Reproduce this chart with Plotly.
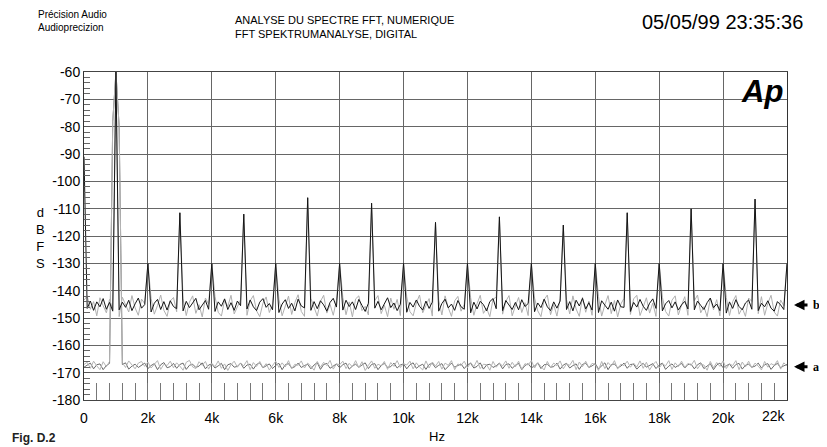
import plotly.graph_objects as go

# ---------------- data ----------------
FREQ_HZ = list(range(0, 22001, 100))  # FFT bins shown, 100 Hz apart

X_TICKS = [0, 2000, 4000, 6000, 8000, 10000, 12000, 14000, 16000, 18000, 20000]
X_TICK_TEXT = ["0", "2k", "4k", "6k", "8k", "10k", "12k", "14k", "16k", "18k", "20k"]
Y_TICKS = [-60, -70, -80, -90, -100, -110, -120, -130, -140, -150, -160, -170, -180]

# trace "b" (with signal), black
B_BLACK = [
    -91.0, -146.5, -143.8, -147.2, -144.1, -145.9, -142.9, -146.8, -144.3, -147.5,
    -60.0, -147.0, -144.2, -146.1, -143.5, -147.3, -144.8, -142.7, -146.4, -145.1,
    -130.0, -147.8, -144.6, -143.2, -146.9, -144.0, -147.1, -143.7, -145.8, -146.6,
    -111.5, -147.4, -143.9, -146.2, -144.5, -142.8, -147.0, -145.3, -143.6, -146.8,
    -130.0, -147.6, -144.1, -145.7, -143.0, -146.9, -144.4, -147.2, -143.8, -145.5,
    -112.0, -146.7, -143.4, -145.9, -147.3, -144.2, -142.9, -146.1, -144.7, -147.0,
    -130.0, -148.0, -144.9, -143.3, -146.5, -144.6, -147.4, -143.1, -145.6, -146.3,
    -106.0, -147.2, -144.0, -146.6, -143.7, -145.2, -147.5, -144.3, -142.8, -146.0,
    -130.0, -147.1, -143.5, -145.8, -144.1, -146.9, -143.2, -145.4, -147.6, -144.6,
    -108.0, -146.4, -143.9, -147.0, -144.8, -142.6, -146.2, -144.5, -147.3, -145.0,
    -130.0, -147.9, -144.3, -146.0, -143.4, -145.7, -147.1, -143.8, -146.5, -144.2,
    -115.0, -147.5, -144.7, -143.1, -146.3, -144.9, -147.2, -143.6, -145.9, -146.8,
    -130.0, -148.1, -144.2, -146.7, -143.9, -145.1, -147.4, -144.0, -142.9, -146.6,
    -113.0, -147.3, -143.6, -145.5, -146.9, -144.3, -147.0, -143.3, -145.8, -144.7,
    -130.0, -147.7, -144.5, -146.2, -143.1, -145.9, -147.3, -144.1, -146.4, -143.8,
    -116.0, -146.9, -144.0, -147.4, -143.5, -145.6, -142.8, -146.7, -144.4, -147.1,
    -130.0, -148.0, -143.7, -145.3, -146.8, -144.2, -147.5, -143.4, -145.9, -146.1,
    -111.5, -147.6, -144.3, -146.0, -143.2, -145.7, -147.2, -144.6, -143.0, -146.5,
    -130.0, -147.4, -144.8, -143.6, -146.3, -144.1, -147.1, -145.2, -143.9, -146.7,
    -110.0, -147.0, -143.8, -145.4, -146.9, -144.4, -142.7, -146.2, -144.9, -147.3,
    -130.0, -148.2, -144.1, -146.5, -143.3, -145.8, -147.0, -144.5, -143.4, -146.8,
    -106.5, -147.3, -144.6, -145.9, -143.7, -146.4, -147.5, -144.0, -145.2, -146.9,
    -130.0,
]

# trace "b", second channel, light gray
B_GRAY = [
    -143.5, -141.9, -146.8, -144.0, -149.2, -142.6, -145.5, -148.1, -143.2, -146.9,
    -60.0, -149.5, -142.4, -145.0, -147.8, -141.8, -146.3, -149.0, -143.1, -144.7,
    -130.0, -142.9, -148.6, -145.4, -141.6, -147.2, -149.4, -143.8, -142.5, -147.7,
    -111.5, -143.0, -149.1, -144.2, -141.9, -148.3, -145.1, -149.6, -142.7, -144.9,
    -130.0, -142.2, -147.9, -149.3, -143.4, -145.8, -141.7, -148.5, -146.0, -143.3,
    -112.0, -149.0, -143.7, -141.8, -147.4, -149.5, -144.6, -142.3, -148.0, -145.2,
    -130.0, -143.1, -149.2, -145.9, -142.0, -148.7, -144.3, -141.5, -147.6, -149.4,
    -106.0, -142.8, -146.5, -149.3, -143.9, -141.7, -148.2, -145.0, -149.0, -143.5,
    -130.0, -142.5, -148.8, -144.1, -149.6, -143.0, -141.9, -147.3, -145.7, -148.9,
    -108.0, -143.6, -141.8, -148.4, -145.3, -149.5, -142.7, -146.8, -143.2, -149.1,
    -130.0, -142.3, -147.7, -149.2, -144.5, -141.6, -148.1, -145.4, -142.9, -149.3,
    -115.0, -143.4, -148.9, -141.9, -146.2, -149.4, -143.7, -142.1, -147.5, -145.0,
    -130.0, -142.6, -149.0, -144.8, -141.7, -148.3, -146.5, -149.5, -143.1, -142.4,
    -113.0, -148.6, -143.9, -141.8, -149.2, -145.6, -142.5, -148.0, -144.4, -149.1,
    -130.0, -142.7, -147.4, -149.5, -143.3, -141.6, -148.8, -145.1, -149.3, -142.9,
    -116.0, -143.2, -148.5, -141.9, -146.7, -149.4, -142.4, -147.9, -143.8, -149.0,
    -130.0, -142.1, -149.3, -145.2, -141.8, -148.4, -143.6, -149.6, -144.9, -142.8,
    -111.5, -148.7, -143.0, -141.7, -149.1, -146.0, -142.6, -148.2, -144.5, -149.4,
    -130.0, -142.4, -147.6, -149.3, -143.5, -141.9, -148.9, -145.3, -142.2, -149.0,
    -110.0, -143.7, -141.6, -148.1, -145.8, -149.5, -142.9, -147.0, -143.3, -149.2,
    -130.0, -142.5, -149.1, -144.0, -141.8, -148.6, -146.3, -149.4, -142.7, -143.9,
    -106.5, -148.4, -142.2, -149.0, -144.6, -141.7, -147.8, -149.3, -143.4, -145.5,
    -130.0,
]

# trace "a" (idle), light gray
A_GRAY = [
    -167.0, -166.2, -168.4, -165.8, -167.5, -168.9, -166.0, -167.8, -165.9, -78.0,
    -60.0, -80.0, -166.3, -168.1, -165.7, -167.2, -168.6, -166.5, -165.9, -167.7,
    -166.1, -168.3, -167.0, -165.6, -168.8, -166.9, -167.4, -165.8, -168.2, -166.4,
    -167.6, -169.1, -166.2, -165.5, -167.9, -168.5, -166.0, -167.3, -165.9, -168.7,
    -166.6, -167.8, -165.7, -168.4, -166.8, -169.2, -167.1, -165.8, -168.0, -166.5,
    -167.5, -165.6, -168.9, -166.3, -167.7, -165.9, -168.2, -166.7, -169.0, -167.2,
    -165.8, -168.1, -166.4, -167.9, -165.6, -168.6, -166.9, -167.3, -165.7, -168.3,
    -166.5, -167.6, -169.1, -165.9, -168.0, -166.2, -167.4, -165.5, -168.7, -166.8,
    -167.1, -165.8, -168.5, -166.6, -167.9, -165.6, -168.2, -166.0, -169.2, -167.3,
    -165.7, -168.4, -166.9, -167.5, -165.9, -168.8, -166.3, -167.7, -165.6, -168.1,
    -166.7, -167.2, -165.8, -168.6, -166.4, -167.9, -169.0, -165.7, -168.3, -166.1,
    -167.6, -165.9, -168.7, -166.5, -167.3, -165.6, -168.9, -166.8, -167.4, -165.8,
    -168.2, -166.3, -167.8, -165.5, -168.5, -166.9, -167.1, -169.1, -165.9, -168.0,
    -166.6, -167.5, -165.7, -168.4, -166.2, -167.9, -165.8, -168.8, -166.7, -167.2,
    -165.6, -168.3, -166.4, -167.7, -169.0, -165.9, -168.1, -166.5, -167.4, -165.7,
    -168.6, -166.8, -167.3, -165.5, -168.9, -166.1, -167.8, -165.8, -168.2, -166.6,
    -167.0, -169.2, -165.9, -168.5, -166.3, -167.6, -165.6, -168.7, -166.9, -167.4,
    -165.8, -168.0, -166.5, -167.9, -165.7, -168.4, -166.2, -169.0, -167.1, -165.9,
    -168.3, -166.7, -167.5, -165.6, -168.8, -166.4, -167.8, -165.8, -168.1, -166.6,
    -167.3, -165.5, -168.6, -166.9, -167.2, -169.1, -165.9, -168.2, -166.3, -167.7,
    -165.7, -168.5, -166.8, -167.4, -165.6, -168.9, -166.1, -167.9, -165.8, -168.3,
    -166.5, -167.6, -169.0, -165.9, -168.0, -166.7, -167.3, -165.6, -168.7, -166.4,
    -167.5,
]

# trace "a", second channel, darker gray
A_DARK = [
    -168.0, -167.3, -166.5, -168.6, -167.1, -166.8, -168.9, -167.4, -166.6, -78.0,
    -60.0, -80.0, -167.0, -166.4, -168.7, -167.6, -166.9, -168.1, -167.2, -166.5,
    -168.5, -167.4, -166.7, -168.9, -167.1, -166.3, -168.2, -167.8, -166.6, -168.4,
    -167.0, -166.5, -168.8, -167.3, -166.9, -168.1, -167.6, -166.4, -168.6, -167.2,
    -166.8, -168.3, -167.5, -166.6, -168.9, -167.1, -166.7, -168.0, -167.7, -166.5,
    -168.4, -167.2, -166.9, -168.7, -167.0, -166.4, -168.2, -167.5, -166.8, -168.5,
    -167.3, -166.6, -168.9, -167.1, -166.7, -168.3, -167.8, -166.5, -168.1, -167.4,
    -166.9, -168.6, -167.2, -166.3, -168.8, -167.0, -166.6, -168.4, -167.5, -166.8,
    -168.2, -167.1, -166.5, -168.7, -167.6, -166.9, -168.0, -167.3, -166.4, -168.5,
    -167.0, -166.7, -168.9, -167.4, -166.6, -168.1, -167.8, -166.5, -168.3, -167.2,
    -166.8, -168.6, -167.1, -166.4, -168.4, -167.5, -166.9, -168.8, -167.0, -166.6,
    -168.2, -167.3, -166.7, -168.9, -167.6, -166.5, -168.0, -167.4, -166.8, -168.5,
    -167.1, -166.6, -168.3, -167.7, -166.4, -168.7, -167.2, -166.9, -168.1, -167.5,
    -166.5, -168.6, -167.0, -166.8, -168.4, -167.3, -166.6, -168.9, -167.4, -166.7,
    -168.2, -167.6, -166.4, -168.5, -167.1, -166.9, -168.0, -167.8, -166.5, -168.7,
    -167.2, -166.6, -168.3, -167.4, -166.8, -168.8, -167.0, -166.5, -168.1, -167.5,
    -166.7, -168.6, -167.3, -166.4, -168.9, -167.1, -166.8, -168.2, -167.6, -166.5,
    -168.4, -167.0, -166.9, -168.7, -167.5, -166.6, -168.0, -167.3, -166.7, -168.5,
    -167.2, -166.5, -168.8, -167.6, -166.8, -168.1, -167.4, -166.6, -168.3, -167.0,
    -166.9, -168.6, -167.1, -166.4, -168.5, -167.7, -166.7, -168.9, -167.2, -166.5,
    -168.2, -167.5, -166.8, -168.4, -167.0, -166.6, -168.7, -167.3, -166.9, -168.0,
    -167.6, -166.5, -168.3, -167.1, -166.7, -168.8, -167.4, -166.6, -168.2, -167.5,
    -167.0,
]

for s in (B_BLACK, B_GRAY, A_GRAY, A_DARK):
    assert len(s) == len(FREQ_HZ)

# ---------------- layout helpers ----------------
# the page body has an 8 px margin, so the figure is drawn 8 px in from the corner
OFF = 8
W, H = 827 - OFF, 447 - OFF
PL, PR, PT, PB = 84, 787, 72, 400          # plot area in screenshot pixels
ML, MR, MT, MB = PL - OFF, (OFF + W) - PR, PT - OFF, (OFF + H) - PB
PW, PH = PR - PL, PB - PT


def px(xp):      # screenshot x -> paper x
    return (xp - PL) / PW


def py(yp):      # screenshot y -> paper y
    return (PB - yp) / PH


FONT = "Liberation Sans, Arial, Helvetica, sans-serif"

fig = go.Figure()
fig.add_trace(go.Scatter(x=FREQ_HZ, y=A_DARK, mode="lines",
                         line=dict(color="#6a6a6a", width=1), name="a2"))
fig.add_trace(go.Scatter(x=FREQ_HZ, y=A_GRAY, mode="lines",
                         line=dict(color="#b4b4b4", width=1), name="a1"))
fig.add_trace(go.Scatter(x=FREQ_HZ, y=B_GRAY, mode="lines",
                         line=dict(color="#b0b0b0", width=1), name="b2"))
fig.add_trace(go.Scatter(x=FREQ_HZ, y=B_BLACK, mode="lines",
                         line=dict(color="#151515", width=1), name="b1"))

grid_col = "#666666"
fig.update_xaxes(
    range=[0, 22000], tickvals=X_TICKS, ticktext=X_TICK_TEXT,
    showgrid=True, gridcolor=grid_col, gridwidth=1,
    showline=True, linecolor="#444", linewidth=1, mirror=True,
    ticks="inside", ticklen=17, tickcolor="#777",
    minor=dict(ticks="inside", ticklen=17, dtick=400, tick0=0,
               tickcolor="#777", showgrid=False),
    tickfont=dict(family=FONT, size=14, color="#000"),
    ticklabelstandoff=5, zeroline=False,
)
fig.update_yaxes(
    range=[-180, -60], tickvals=Y_TICKS, ticktext=[str(v) for v in Y_TICKS],
    showgrid=True, gridcolor=grid_col, gridwidth=1,
    showline=True, linecolor="#333", linewidth=1, mirror=True,
    ticks="inside", ticklen=6, tickcolor="#555",
    minor=dict(ticks="inside", ticklen=6, dtick=2, tickcolor="#666", showgrid=False),
    tickfont=dict(family=FONT, size=14, color="#000"),
    zeroline=False,
)

ann = []
# header texts
ann.append(dict(text="Précision Audio<br>Audioprecizion", x=px(36), y=py(21),
                xanchor="left", yanchor="middle", align="left",
                font=dict(family=FONT, size=10, color="#000")))
ann.append(dict(text="ANALYSE DU SPECTRE FFT, NUMERIQUE<br>FFT SPEKTRUMANALYSE, DIGITAL",
                x=px(233), y=py(27.5), xanchor="left", yanchor="middle", align="left",
                font=dict(family=FONT, size=11, color="#000")))
ann.append(dict(text="05/05/99 23:35:36", x=px(640), y=py(22),
                xanchor="left", yanchor="middle",
                font=dict(family=FONT, size=20, color="#000")))
# logo
ann.append(dict(text="<b><i>Ap</i></b>", x=px(785), y=py(91),
                xanchor="right", yanchor="middle",
                font=dict(family=FONT, size=31, color="#000")))
# axis titles
ann.append(dict(text="Hz", x=px(437), y=py(436), xanchor="center", yanchor="middle",
                font=dict(family=FONT, size=13, color="#000")))
ann.append(dict(text="d<br>B<br>F<br>S", x=px(40), y=py(237.5),
                xanchor="center", yanchor="middle", align="center",
                font=dict(family=FONT, size=13, color="#000")))
# last x label (drawn just inside the right edge, like the original)
ann.append(dict(text="22k", x=px(774), y=py(415.5), xanchor="center", yanchor="middle",
                font=dict(family=FONT, size=14, color="#000")))
# figure caption at the bottom edge
ann.append(dict(text="<b>Fig. D.2</b>", x=px(10), y=py(438), xanchor="left",
                yanchor="middle", font=dict(family=FONT, size=12, color="#222")))
# trace markers a / b
for lbl, lvl in (("b", -145.2), ("a", -167.8)):
    ann.append(dict(x=px(794), y=lvl, xref="paper", yref="y", text="",
                    showarrow=True, ax=15, ay=0, arrowhead=2, arrowsize=0.7,
                    arrowwidth=3, arrowcolor="#000"))
    ann.append(dict(x=px(811), y=lvl, xref="paper", yref="y", text="<b>" + lbl + "</b>",
                    showarrow=False, xanchor="left", yanchor="middle",
                    font=dict(family="Liberation Serif, serif", size=12, color="#000")))

for a in ann:
    a.setdefault("xref", "paper")
    a.setdefault("yref", "paper")
    a.setdefault("showarrow", False)

fig.update_layout(
    width=W, height=H,
    margin=dict(l=ML, r=MR, t=MT, b=MB),
    paper_bgcolor="#fff", plot_bgcolor="#fff",
    showlegend=False,
    annotations=ann,
)

fig.write_html("out.html")
